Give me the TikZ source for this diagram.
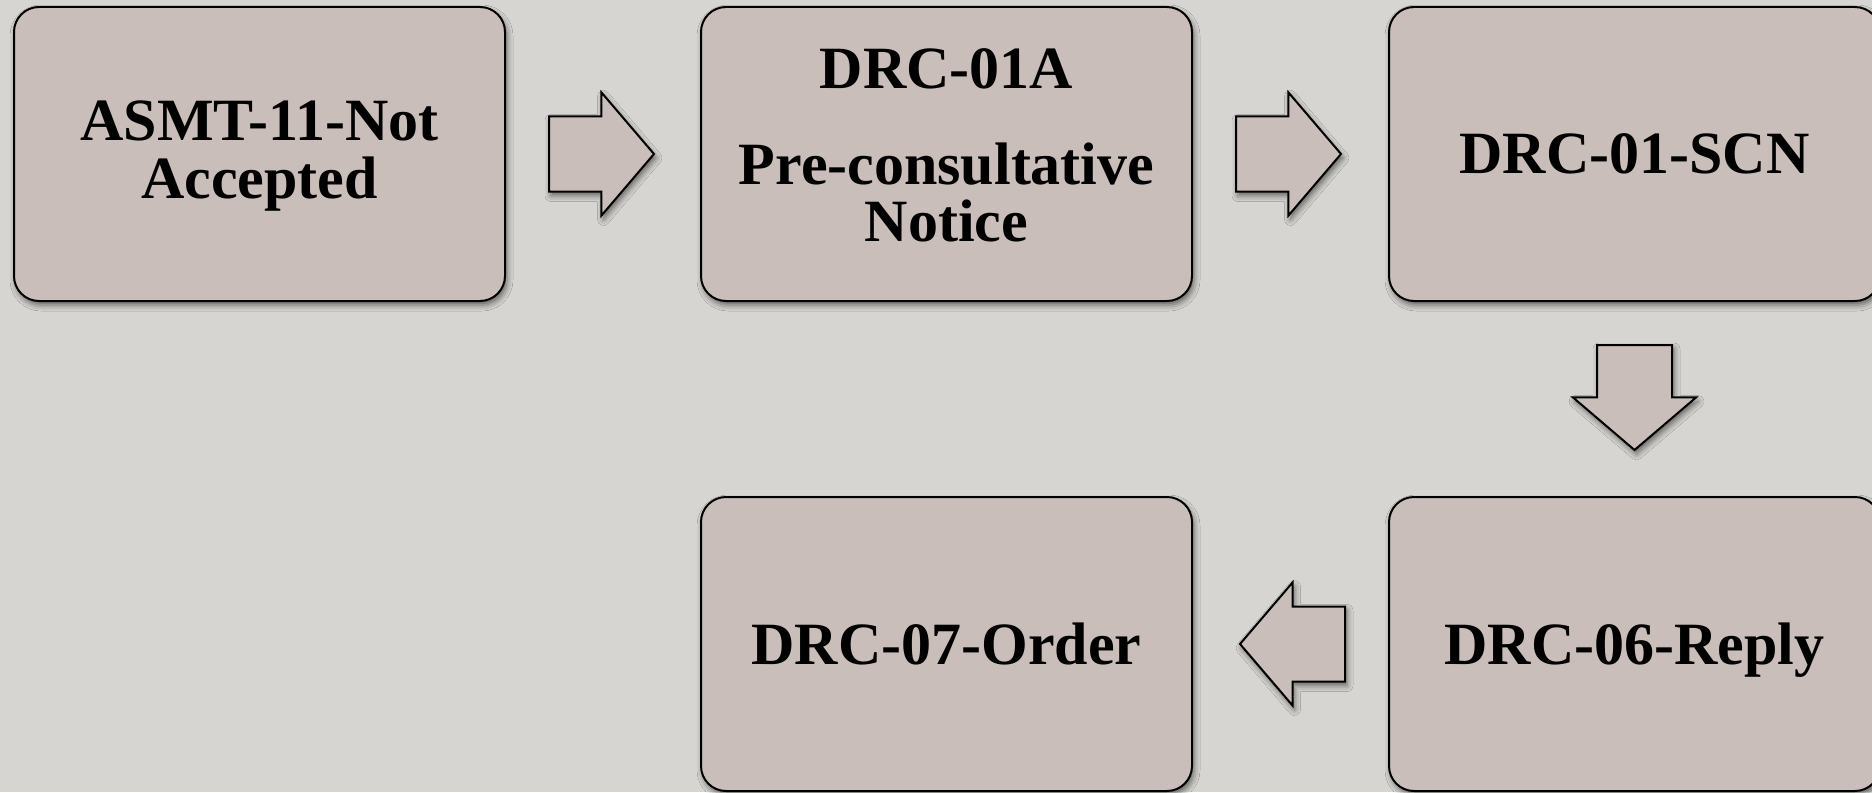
\documentclass[tikz,border=0pt]{standalone}
\usepackage{fontspec}
\setmainfont{Liberation Serif}
\usetikzlibrary{shapes.arrows,shadows.blur,calc}
\definecolor{bgstone}{RGB}{214,213,209}
\definecolor{boxfill}{RGB}{201,190,186}
\begin{document}
\begin{tikzpicture}[x=0.5pt,y=-0.5pt,
  softshadow/.style={blur shadow={shadow xshift=1pt,shadow yshift=-2pt,shadow blur radius=3pt,shadow opacity=55}},
  stepbox/.style={rectangle,rounded corners=12.5pt,draw=black,line width=1pt,fill=boxfill,
    minimum width=245.5pt,minimum height=147pt,inner sep=0pt,softshadow},
  steptext/.style={inner sep=0pt,align=center,
    font=\bfseries\fontsize{30pt}{28.7pt}\selectfont},
  oneline/.style={steptext,text depth=0pt},
  blockarrow/.style={single arrow,draw=black,line width=1pt,fill=boxfill,
    minimum height=52.5pt,minimum width=60.5pt,single arrow head extend=12pt,
    single arrow tip angle=99,anchor=tail,softshadow},
  across/.style={blockarrow,inner xsep=0pt,inner ysep=18.25pt},
  downward/.style={blockarrow,shape border rotate=270,inner xsep=18.25pt,inner ysep=0pt}]
  % stone-coloured page
  \useasboundingbox (0,0) rectangle (1872,792);
  \clip (0,0) rectangle (1872,792);
  \fill[bgstone] (0,0) rectangle (1872,792);

  % process steps
  \node[stepbox] (asmt)  at (259.5,154) {};
  \node[stepbox] (pre)   at (946.5,154) {};
  \node[stepbox] (scn)   at (1634.5,154) {};
  \node[stepbox] (order) at (946.5,644) {};
  \node[stepbox] (reply) at (1634.5,644) {};

  % step captions
  \node[steptext] (asmt-t) at ([yshift=-1pt]asmt.center) {ASMT-11-Not\\Accepted};
  \node[steptext] (pre-t) at ([yshift=4.2pt]pre.center) {DRC-01A\\[19.1pt]Pre-consultative\\Notice};
  \node[oneline] (scn-t) at (scn.center) {DRC-01-SCN};
  \node[oneline] (order-t) at (order.center) {DRC-07-Order};
  \node[oneline] (reply-t) at (reply.center) {DRC-06-Reply};

  % block arrows between the steps (tail placed before the gap's midpoint)
  \path (asmt.east) -- node[across,xshift=-27.5pt] (a1) {} (pre.west);
  \path (pre.east) -- node[across,xshift=-27.75pt] (a2) {} (scn.west);
  \path (scn.south) -- node[downward,yshift=27.5pt] (a3) {} (reply.north);
  \path (reply.west) -- node[across,shape border rotate=180,xshift=27.75pt] (a4) {} (order.east);
\end{tikzpicture}
\end{document}
